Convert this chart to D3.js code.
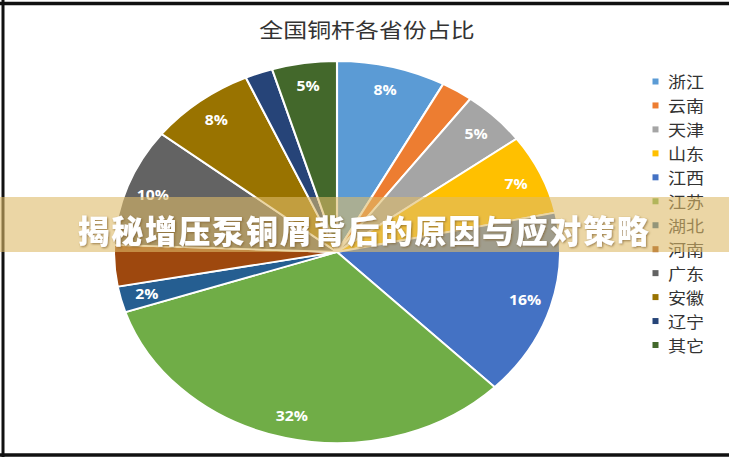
<!DOCTYPE html>
<html>
<head>
<meta charset="utf-8">
<script src="https://cdn.jsdelivr.net/npm/d3@7"></script>
<style>
html,body{margin:0;padding:0;background:#fff;}
svg{display:block;}
</style>
</head>
<body>
<script>
const title = "全国铜杆各省份占比";
const provinces = ["浙江","云南","天津","山东","江西","江苏","湖北","河南","广东","安徽","辽宁","其它"];
const shares = [7.9, 2.3, 4.7, 6.8, 15.8, 32.4, 2.2, 3.5, 10.0, 7.7, 2.0, 4.7];
const labelText = ["8%","","5%","7%","16%","32%","2%","","10%","8%","","5%"];
const colors = ["#5B9BD5","#ED7D31","#A5A5A5","#FFC000","#4472C4","#70AD47","#255E91","#9E480E","#636363","#997300","#264478","#43682B"];
const bannerText = "揭秘增压泵铜屑背后的原因与应对策略";

const W = 729, H = 457;
const S = 223 / 191; // horizontal stretch of the original picture
const svg = d3.select("body").append("svg").attr("width", W).attr("height", H);
svg.append("rect").attr("width", W).attr("height", H).attr("fill", "#fff");

const root = svg.append("g").attr("transform", `scale(${S},1)`);
const fontCJK = "'Noto Sans CJK SC','Noto Sans',sans-serif";

// title
root.append("text")
  .attr("x", 367 / S).attr("y", 29)
  .attr("text-anchor", "middle").attr("dominant-baseline", "central")
  .attr("font-family", fontCJK).attr("font-size", 20.5)
  .attr("fill", "#333").text(title);

// pie
const R = 191;
const cx = 337 / S, cy = 252;
const pie = d3.pie().sort(null).value(d => d)(shares);
const arc = d3.arc().innerRadius(0).outerRadius(R);
const labelArc = d3.arc().innerRadius(R * 0.88).outerRadius(R * 0.88);
const pg = root.append("g").attr("transform", `translate(${cx},${cy})`);
pg.selectAll("path.slice").data(pie).join("path")
  .attr("class", "slice")
  .attr("d", arc)
  .attr("fill", (d, i) => colors[i])
  .attr("stroke", "#fff").attr("stroke-width", 1.8).attr("stroke-linejoin", "round");

pg.selectAll("text.lbl").data(pie).join("text")
  .attr("class", "lbl")
  .attr("transform", d => `translate(${labelArc.centroid(d)})`)
  .attr("text-anchor", "middle").attr("dominant-baseline", "central")
  .attr("font-family", "'Open Sans','DejaVu Sans',sans-serif")
  .attr("font-weight", "bold").attr("font-size", 13.5)
  .attr("fill", "#fff")
  .text((d, i) => labelText[i]);

// legend
const legendY = d3.scalePoint().domain(provinces).range([81.5, 345]);
const lg = root.append("g");
const items = lg.selectAll("g").data(provinces).join("g")
  .attr("transform", d => `translate(0,${legendY(d)})`);
items.append("rect")
  .attr("x", 652.5 / S).attr("y", -3).attr("width", 6 / S).attr("height", 6)
  .attr("fill", (d, i) => colors[i]);
items.append("text")
  .attr("x", 668 / S).attr("y", 0)
  .attr("dominant-baseline", "central")
  .attr("font-family", fontCJK).attr("font-size", 15.5)
  .attr("fill", "#333").text(d => d);

// frame lines
svg.append("line").attr("x1", 0).attr("x2", W).attr("y1", 3.5).attr("y2", 3.5).attr("stroke", "#111").attr("stroke-width", 3.5);
svg.append("line").attr("x1", 3).attr("x2", 3).attr("y1", 0).attr("y2", H).attr("stroke", "#111").attr("stroke-width", 3);
svg.append("line").attr("x1", 0).attr("x2", W).attr("y1", 455).attr("y2", 455).attr("stroke", "#111").attr("stroke-width", 3.5);

// banner overlay
svg.append("rect").attr("x", 0).attr("y", 197).attr("width", W).attr("height", 55)
  .attr("fill", "rgb(222,186,105)").attr("fill-opacity", 0.6);

const defs = svg.append("defs");
const f = defs.append("filter").attr("id", "sh").attr("x", "-10%").attr("y", "-30%").attr("width", "120%").attr("height", "160%");
f.append("feDropShadow").attr("dx", 1).attr("dy", 1).attr("stdDeviation", 1.2).attr("flood-color", "#7a5a20").attr("flood-opacity", 0.7);

svg.append("text")
  .attr("x", 364).attr("y", 229)
  .attr("text-anchor", "middle").attr("dominant-baseline", "central")
  .attr("font-family", fontCJK).attr("font-weight", 900).attr("font-size", 32)
  .attr("letter-spacing", 1.7)
  .attr("fill", "#fff").attr("filter", "url(#sh)")
  .text(bannerText);
</script>
</body>
</html>
